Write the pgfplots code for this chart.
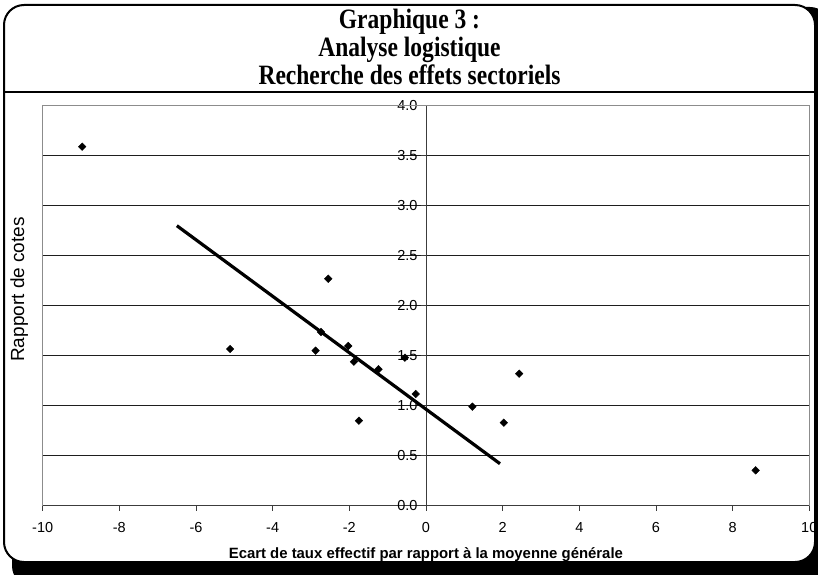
\documentclass[border=0pt]{standalone}
\usepackage{pgfplots}
\pgfplotsset{compat=1.18}
\usepackage{fontspec}
\setmainfont{Liberation Sans}
\newfontfamily\titlefont[FakeStretch=0.84]{Liberation Serif}
\definecolor{gridc}{HTML}{1E1E1E}
\definecolor{boxc}{HTML}{8C8C8C}
\definecolor{axc}{HTML}{3C3C3C}

\begin{document}
\begin{tikzpicture}[x=1pt,y=1pt]
\useasboundingbox (0,0) rectangle (818,574);
% frame with shadow
\begin{scope}
\clip (0,0) rectangle (818,574);
\fill[black, rounded corners=20pt] (12,-12) rectangle (830,567);
\filldraw[fill=white, draw=black, line width=2pt, rounded corners=20pt] (4,12) rectangle (815,569);
\draw[line width=2pt] (4,482) -- (815,482);
\end{scope}

% title
\begin{scope}[every node/.style={anchor=base, font=\titlefont\bfseries\fontsize{28}{28}\selectfont}]
\node at (409.5,545) {Graphique 3 :};
\node at (409.5,517) {Analyse logistique};
\node at (409.5,489) {Recherche des effets sectoriels};
\end{scope}

\begin{axis}[
    at={(42.7pt,68.3pt)}, anchor=south west,
    scale only axis, width=766.6pt, height=400pt,
    xmin=-10, xmax=10, ymin=0, ymax=4,
    axis x line=bottom, axis y line=center,
    axis line style={-},
    x axis line style={draw=axc, line width=0.9pt},
    y axis line style={draw=axc, line width=0.9pt},
    xtick={-10,-8,...,10},
    ytick={0,0.5,...,4},
    ymajorgrids,
    major grid style={gridc, line width=0.8pt},
    tick style={draw=axc, line width=0.8pt},
    major tick length=5pt,
    tick align=outside,
    hide obscured x ticks=false,
    hide obscured y ticks=false,
    ticklabel style={font=\fontsize{14.5}{14.5}\selectfont},
    xticklabel style={yshift=-8pt},
    yticklabel style={/pgf/number format/.cd, fixed, fixed zerofill, precision=1},
    /pgf/number format/assume math mode=true,
    clip=false,
]
\draw[boxc, line width=0.9pt] (rel axis cs:0,0) -- (rel axis cs:0,1) -- (rel axis cs:1,1) -- (rel axis cs:1,0);
% points (diamonds)
\addplot[only marks, mark=square*, mark size=2.7pt, mark options={rotate=45}, black] coordinates {
(-8.97,3.59) (-5.11,1.567) (-2.88,1.55) (-2.74,1.737) (-2.55,2.27)
(-2.03,1.597) (-1.88,1.44) (-1.75,0.85) (-1.24,1.364) (-0.55,1.48)
(-0.27,1.117) (1.21,0.99) (2.03,0.83) (2.43,1.32) (8.60,0.354)
};
% trend line
\addplot[black, line width=3.2pt] coordinates {(-6.5,2.8) (1.93,0.42)};
\end{axis}

\node[rotate=90, anchor=base west, inner sep=0pt, font=\fontsize{19}{19}\selectfont] at (24,212) {Rapport de cotes};
\node[anchor=base, font=\bfseries\fontsize{14.9}{15}\selectfont] at (425.9,16) {Ecart de taux effectif par rapport à la moyenne générale};
\end{tikzpicture}
\end{document}
